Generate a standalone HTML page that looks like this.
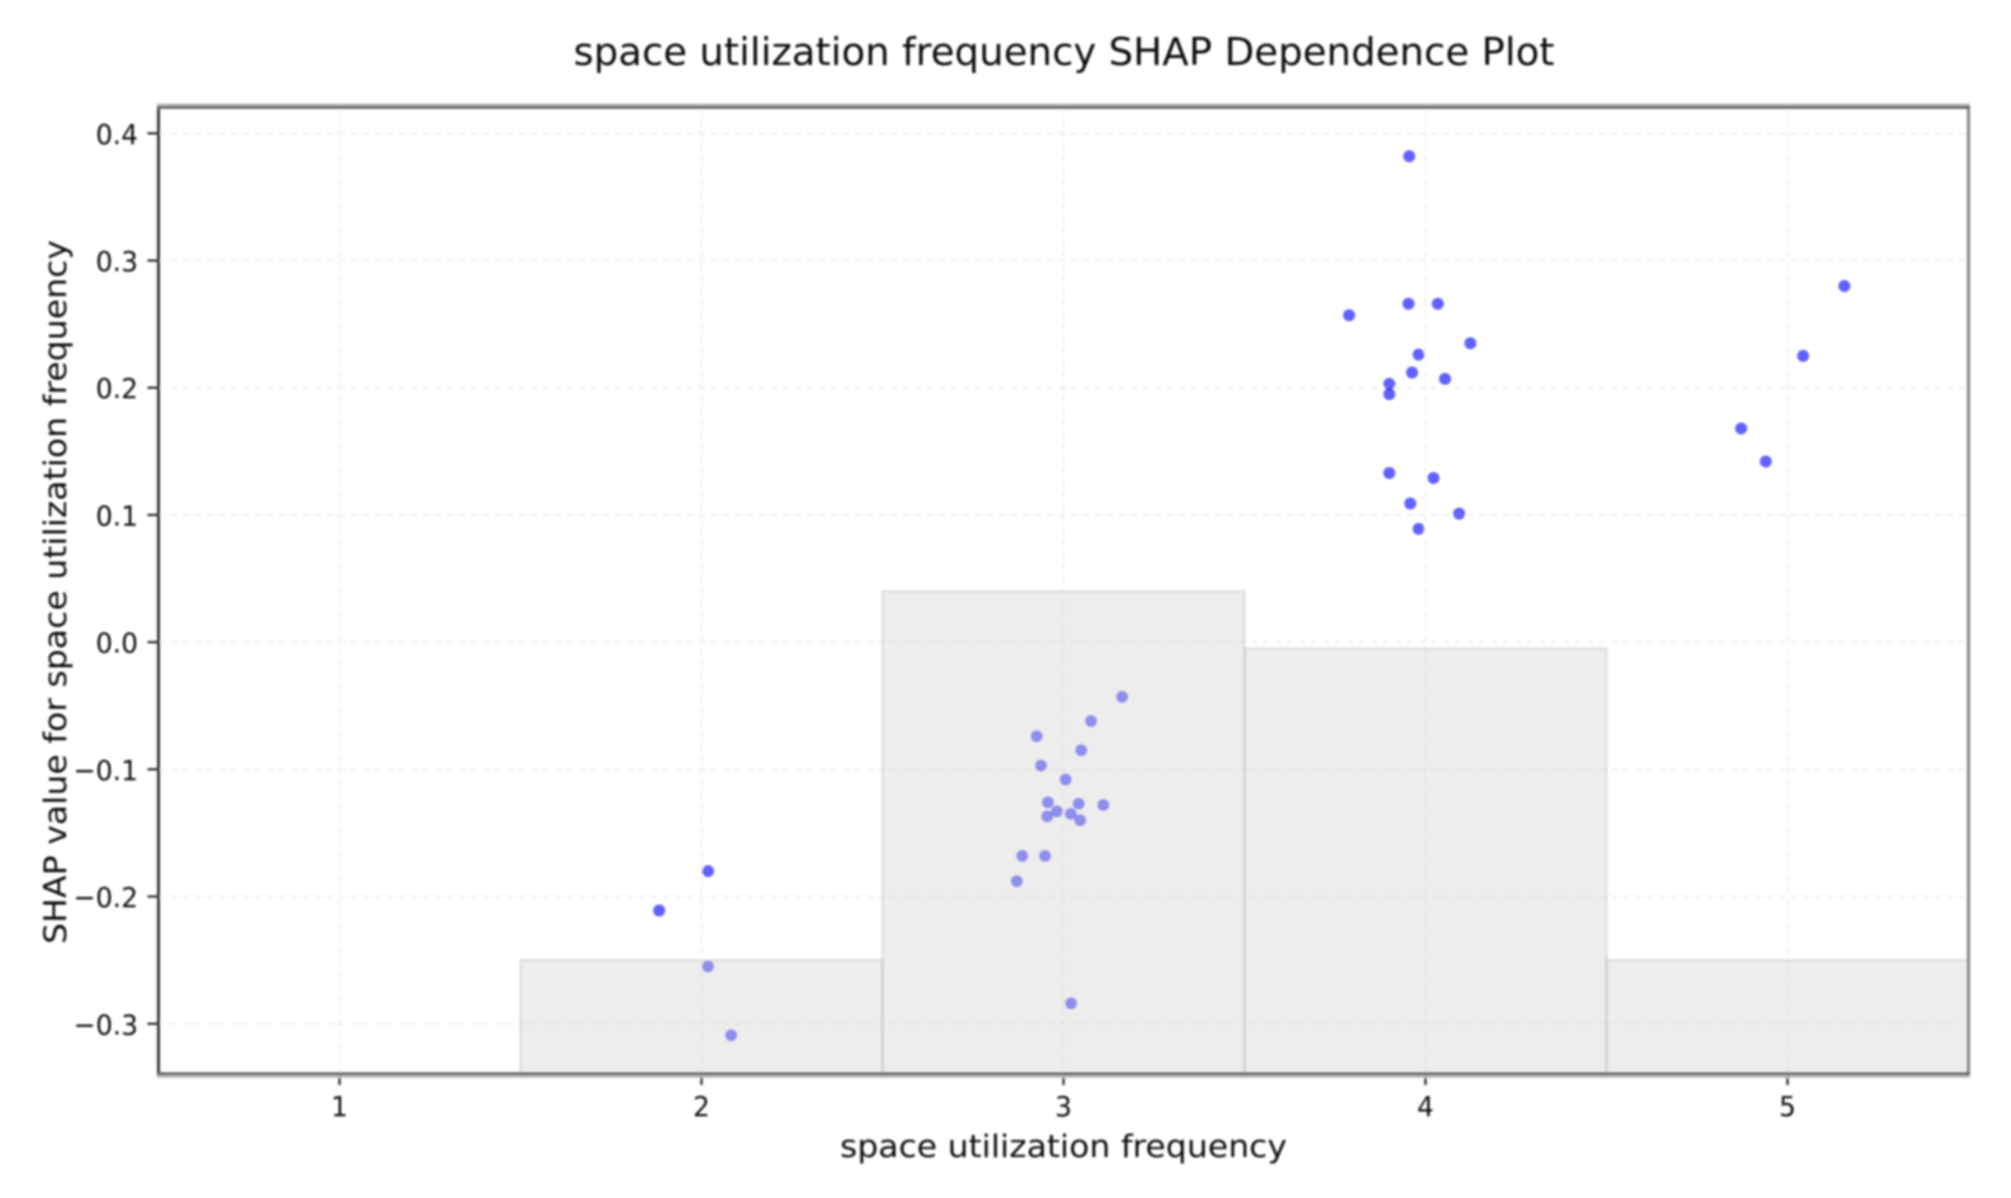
<!DOCTYPE html>
<html lang="en">
<head>
<meta charset="utf-8">
<title>space utilization frequency SHAP Dependence Plot</title>
<style>
html,body{margin:0;padding:0;background:#fff;width:2011px;height:1198px;overflow:hidden}
svg{display:block}
text{font-family:"DejaVu Sans","Liberation Sans",sans-serif;fill:#111}
</style>
</head>
<body>
<svg id="chart" xmlns="http://www.w3.org/2000/svg" width="2011" height="1198" viewBox="0 0 2011 1198">
<defs>
<filter id="soft" x="-2%" y="-2%" width="104%" height="104%"><feGaussianBlur stdDeviation="1"/></filter>
<clipPath id="plot-clip"><rect x="158.5" y="107" width="1810" height="967"/></clipPath>
</defs>
<rect width="2011" height="1198" fill="#fff"/>
<g id="root" filter="url(#soft)">
<g id="grid" clip-path="url(#plot-clip)"></g>
<g id="points" clip-path="url(#plot-clip)"></g>
<g id="bars" clip-path="url(#plot-clip)"></g>
<g id="ticks"></g>
<g id="spines">
<line x1="158.5" y1="106" x2="158.5" y2="1075" stroke="#3a3a3a" stroke-width="3"/>
<line x1="1968.5" y1="106" x2="1968.5" y2="1075" stroke="#888" stroke-width="3.2"/>
<line x1="157" y1="104.8" x2="1970" y2="104.8" stroke="#bbb" stroke-width="2.6"/>
<line x1="157" y1="107.4" x2="1970" y2="107.4" stroke="#666" stroke-width="3"/>
<line x1="157" y1="1076.6" x2="1970" y2="1076.6" stroke="#bbb" stroke-width="2.6"/>
<line x1="157" y1="1073.8" x2="1970" y2="1073.8" stroke="#666" stroke-width="3"/>
</g>
<text x="1064" y="65" text-anchor="middle" font-size="38.5" textLength="981" lengthAdjust="spacingAndGlyphs">space utilization frequency SHAP Dependence Plot</text>
<text x="1063.5" y="1157" text-anchor="middle" font-size="31.5" textLength="447" lengthAdjust="spacingAndGlyphs">space utilization frequency</text>
<text transform="translate(66,592) rotate(-90)" text-anchor="middle" font-size="31.5" textLength="704" lengthAdjust="spacingAndGlyphs">SHAP value for space utilization frequency</text>
</g>
</svg>
<script>
const xTicks = [1, 2, 3, 4, 5];
const yTicks = [0.4, 0.3, 0.2, 0.1, 0.0, -0.1, -0.2, -0.3];
const yTickLabels = ["0.4", "0.3", "0.2", "0.1", "0.0", "\u22120.1", "\u22120.2", "\u22120.3"];
const barCenters = [2, 3, 4, 5];
const barTops = [-0.25, 0.04, -0.005, -0.25];
const pointX = [1.883, 2.018, 2.018, 2.082,
  3.162, 3.076, 2.926, 3.049, 2.938, 3.006, 2.957, 3.042, 3.110, 2.982, 3.020, 2.955, 3.046, 2.886, 2.949, 2.871, 3.021,
  3.955, 3.953, 4.034, 3.789, 4.124, 3.981, 3.963, 4.054, 3.900, 3.900, 3.900, 4.022, 3.958, 4.093, 3.981,
  4.872, 4.940, 5.043, 5.157];
const pointY = [-0.211, -0.180, -0.255, -0.309,
  -0.043, -0.062, -0.074, -0.085, -0.097, -0.108, -0.126, -0.127, -0.128, -0.133, -0.135, -0.137, -0.140, -0.168, -0.168, -0.188, -0.284,
  0.382, 0.266, 0.266, 0.257, 0.235, 0.226, 0.212, 0.207, 0.203, 0.195, 0.133, 0.129, 0.109, 0.101, 0.089,
  0.168, 0.142, 0.225, 0.280];

const NS = "http://www.w3.org/2000/svg";
const xLim = [0.5, 5.5], yLim = [-0.3395, 0.4207];
const plotBox = { left: 158.5, right: 1968.5, top: 107, bottom: 1074 };
function xScale(v) { return plotBox.left + (v - xLim[0]) / (xLim[1] - xLim[0]) * (plotBox.right - plotBox.left); }
function yScale(v) { return plotBox.bottom - (v - yLim[0]) / (yLim[1] - yLim[0]) * (plotBox.bottom - plotBox.top); }
function make(tag, attrs, parent) {
  const el = document.createElementNS(NS, tag);
  for (const k in attrs) el.setAttribute(k, attrs[k]);
  parent.appendChild(el);
  return el;
}
const gridG = document.getElementById("grid");
const pointsG = document.getElementById("points");
const barsG = document.getElementById("bars");
const ticksG = document.getElementById("ticks");

xTicks.forEach(function (t) {
  const x = xScale(t);
  const g = make("line", { x1: x, y1: plotBox.top, x2: x, y2: plotBox.bottom, stroke: "#e4e4e4", "stroke-width": 1.8, "stroke-dasharray": "7 5", opacity: 0.55 }, gridG);
  
  
  const tk = make("line", { x1: x, y1: plotBox.bottom, x2: x, y2: plotBox.bottom + 11, stroke: "#333", "stroke-width": 2.4 }, ticksG);
  
  
  const lb = make("text", { transform: "translate(" + x + ",1116) scale(0.95,1)", "text-anchor": "middle", "font-size": 28 }, ticksG);
  
  
  lb.textContent = String(t);
});
yTicks.forEach(function (t, i) {
  const y = yScale(t);
  const g = make("line", { x1: plotBox.left, y1: y, x2: plotBox.right, y2: y, stroke: "#e4e4e4", "stroke-width": 1.8, "stroke-dasharray": "7 5", opacity: 0.55 }, gridG);
  
  
  const tk = make("line", { x1: plotBox.left - 11, y1: y, x2: plotBox.left, y2: y, stroke: "#333", "stroke-width": 2.4 }, ticksG);
  
  
  const lb = make("text", { transform: "translate(138," + (y + 10.5) + ") scale(0.95,1)", "text-anchor": "end", "font-size": 28 }, ticksG);
  
  
  lb.textContent = yTickLabels[i];
});
pointX.forEach(function (v, i) {
  const c = make("circle", { cx: xScale(v), cy: yScale(pointY[i]), r: 6, fill: "#0000ff", opacity: 0.62 }, pointsG);
  
  
});
barCenters.forEach(function (c, i) {
  const x0 = xScale(c - 0.5), x1 = xScale(c + 0.5), y0 = yScale(barTops[i]);
  const r = make("rect", { x: x0, y: y0, width: x1 - x0, height: plotBox.bottom + 2 - y0, fill: "#d3d3d3", "fill-opacity": 0.4, stroke: "#bdbdbd", "stroke-opacity": 0.4, "stroke-width": 2.4 }, barsG);
  
  
});
</script>
</body>
</html>
